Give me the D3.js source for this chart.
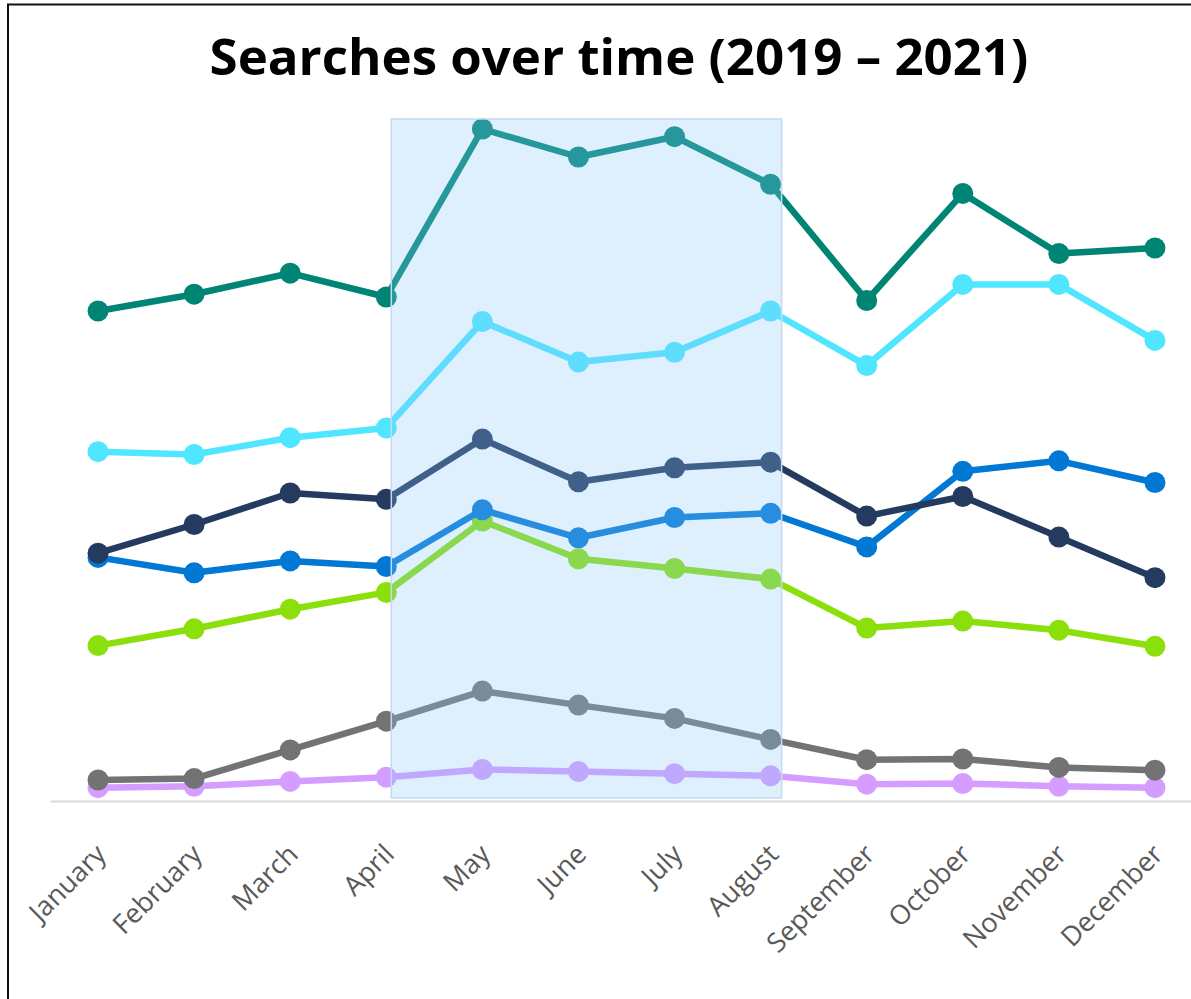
<!DOCTYPE html>
<html>
<head>
<meta charset="utf-8">
<script src="https://cdn.jsdelivr.net/npm/d3@7"></script>
<style>
  body { margin: 0; background: #fff; }
  svg { display: block; }
</style>
</head>
<body>
<div id="vis"></div>
<script>
// months on the x axis
var months = ['January', 'February', 'March', 'April', 'May', 'June',
  'July', 'August', 'September', 'October', 'November', 'December'];

// series values
var teal   = [70.0, 72.4, 75.4, 72.0, 96.0, 92.0, 94.9, 88.1, 71.5, 86.8, 78.2, 79.0];
var cyan   = [49.9, 49.5, 51.9, 53.3, 68.5, 62.7, 64.1, 70.0, 62.2, 73.8, 73.8, 65.8];
var navy   = [35.4, 39.5, 44.0, 43.1, 51.7, 45.6, 47.6, 48.4, 40.7, 43.5, 37.7, 31.9];
var blue   = [34.8, 32.6, 34.3, 33.5, 41.6, 37.6, 40.5, 41.1, 36.3, 47.1, 48.6, 45.5];
var green  = [22.2, 24.6, 27.4, 29.8, 40.0, 34.6, 33.2, 31.7, 24.7, 25.7, 24.4, 22.1];
var gray   = [3.0, 3.2, 7.3, 11.4, 15.7, 13.7, 11.8, 8.8, 5.9, 6.0, 4.8, 4.4];
var purple = [1.9, 2.1, 2.8, 3.4, 4.5, 4.2, 3.9, 3.6, 2.4, 2.5, 2.1, 1.9];

var seriesNames = ['teal', 'cyan', 'navy', 'blue', 'green', 'gray', 'purple'];
var seriesColors = ['#008575', '#50E6FF', '#243A5E', '#0078D4', '#8BDF0A', '#737373', '#D59DFF'];
var seriesValues = [teal, cyan, navy, blue, green, gray, purple];

// highlighted period
var highlightFrom = 'April';
var highlightTo = 'August';

var width = 1191;
var height = 999;

var svg = d3.select('#vis').append('svg')
  .attr('width', width)
  .attr('height', height);

// outer frame
svg.append('rect')
  .attr('x', 8)
  .attr('y', 4.5)
  .attr('width', width + 20)
  .attr('height', height + 20)
  .attr('fill', 'none')
  .attr('stroke', '#111')
  .attr('stroke-width', 2);

svg.append('text')
  .attr('x', 619)
  .attr('y', 75)
  .attr('text-anchor', 'middle')
  .style('font-family', '"Open Sans", sans-serif')
  .style('font-weight', 700)
  .style('font-size', '51px')
  .attr('fill', '#000')
  .text('Searches over time (2019 \u2013 2021)');

var x = d3.scalePoint()
  .domain(months)
  .range([50, 1203])
  .padding(0.5);

var y = d3.scaleLinear()
  .domain([0, 100])
  .range([801, 101]);

// x axis
var xAxis = svg.append('g')
  .attr('transform', 'translate(0,' + 801 + ')')
  .call(d3.axisBottom(x).tickSize(0).tickPadding(0));

xAxis.select('.domain')
  .attr('stroke', '#d9d9d9')
  .attr('stroke-width', 2);

xAxis.selectAll('.tick text')
  .attr('text-anchor', 'end')
  .attr('dy', 0)
  .attr('transform', 'translate(9,55) rotate(-45)')
  .style('font-family', '"Open Sans", sans-serif')
  .style('font-size', '27px')
  .attr('fill', '#595959');

var line = d3.line()
  .x(function(d, i) { return x(months[i]); })
  .y(function(d) { return y(d); });

// draw from the last series to the first so the first ends on top
var order = d3.range(seriesValues.length).reverse();

var g = svg.append('g');

order.forEach(function(s) {
  var sg = g.append('g').attr('class', 'series ' + seriesNames[s]);
  sg.append('path')
    .datum(seriesValues[s])
    .attr('d', line)
    .attr('fill', 'none')
    .attr('stroke', seriesColors[s])
    .attr('stroke-width', 6.5)
    .attr('stroke-linejoin', 'round');
  sg.selectAll('circle')
    .data(seriesValues[s])
    .enter()
    .append('circle')
    .attr('cx', function(d, i) { return x(months[i]); })
    .attr('cy', function(d) { return y(d); })
    .attr('r', 10.5)
    .attr('fill', seriesColors[s]);
});

// highlight band over April - August
var bandLeft = x(highlightFrom) + 5;
var bandRight = x(highlightTo) + 11;

svg.append('rect')
  .attr('x', bandLeft)
  .attr('y', 119)
  .attr('width', bandRight - bandLeft)
  .attr('height', 798 - 119)
  .attr('fill', 'rgb(135,196,250)')
  .attr('fill-opacity', 0.28)
  .attr('stroke', '#c6d9f0')
  .attr('stroke-width', 1.5);
</script>
</body>
</html>
